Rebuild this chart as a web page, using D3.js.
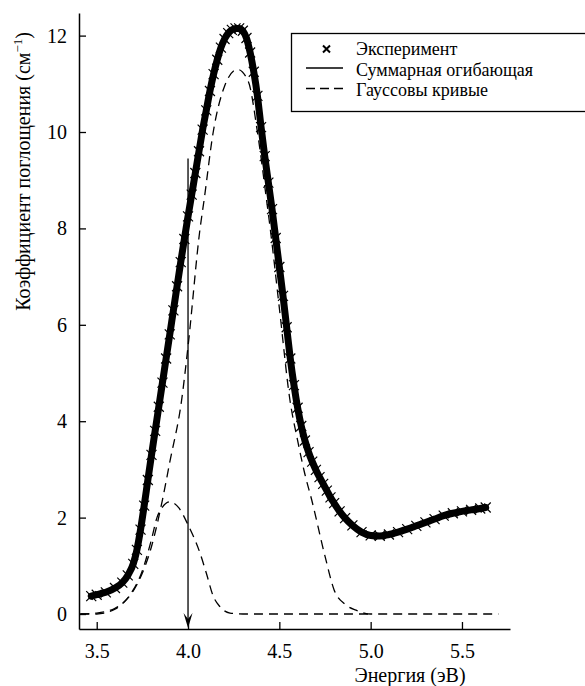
<!DOCTYPE html>
<html>
<head>
<meta charset="utf-8">
<script src="https://cdn.jsdelivr.net/npm/d3@7"></script>
<style>
  body { margin: 0; background: #fff; }
  svg, svg text { font-family: "Liberation Serif", "DejaVu Serif", "Times New Roman", serif; }
</style>
</head>
<body>
<div id="chart"></div>
<script>
"use strict";

const FONT = "'Liberation Serif', 'DejaVu Serif', 'Times New Roman', serif";

// experiment readings (eV, cm^-1)
const expEnergy = [3.47, 3.50, 3.55, 3.60, 3.64, 3.67, 3.70, 3.72, 3.74, 3.76,
  3.78, 3.80, 3.82, 3.84, 3.86, 3.88, 3.90, 3.92, 3.94, 3.96,
  3.98, 4.00, 4.02, 4.04, 4.06, 4.08, 4.10, 4.12, 4.14, 4.16,
  4.18, 4.20, 4.22, 4.24, 4.26, 4.28, 4.30, 4.32, 4.34, 4.36,
  4.38, 4.40, 4.42, 4.44, 4.46, 4.48, 4.50, 4.52, 4.54, 4.56,
  4.58, 4.60, 4.62, 4.64, 4.66, 4.68, 4.70, 4.72, 4.74, 4.76,
  4.78, 4.80, 4.83, 4.86, 4.90, 4.95, 5.00, 5.05, 5.10, 5.15,
  5.20, 5.25, 5.30, 5.35, 5.40, 5.45, 5.50, 5.55, 5.60, 5.63];
const expAbsorb = [0.37, 0.40, 0.45, 0.54, 0.65, 0.80, 1.04, 1.33, 1.75, 2.25,
  2.78, 3.30, 3.80, 4.30, 4.80, 5.30, 5.80, 6.30, 6.80, 7.30,
  7.78, 8.25, 8.70, 9.15, 9.60, 10.05, 10.45, 10.85, 11.20, 11.50,
  11.75, 11.93, 12.05, 12.12, 12.15, 12.15, 12.10, 11.95, 11.65, 11.25,
  10.75, 10.10, 9.50, 8.95, 8.40, 7.80, 7.20, 6.60, 5.95, 5.30,
  4.75, 4.28, 3.90, 3.60, 3.36, 3.16, 2.99, 2.84, 2.70, 2.56,
  2.42, 2.30, 2.13, 1.99, 1.84, 1.70, 1.63, 1.62, 1.65, 1.70,
  1.76, 1.83, 1.90, 1.97, 2.04, 2.09, 2.13, 2.16, 2.19, 2.21];

// small gaussian component
const gauss1Energy = [3.41, 3.50, 3.60, 3.65, 3.70, 3.75, 3.80, 3.83, 3.86, 3.90,
  3.95, 4.00, 4.066, 4.10, 4.137, 4.175, 4.23, 4.30, 5.00];
const gauss1Values = [0, 0, 0.10, 0.25, 0.50, 0.90, 1.55, 2.00, 2.22, 2.33,
  2.20, 1.85, 1.26, 0.85, 0.38, 0.15, 0.02, 0, 0];

// main gaussian component
const gauss2Energy = [3.41, 3.50, 3.60, 3.65, 3.70, 3.75, 3.80, 3.86, 3.90, 3.965,
  4.00, 4.066, 4.088, 4.138, 4.20, 4.27, 4.33, 4.38, 4.43, 4.45,
  4.50, 4.558, 4.60, 4.64, 4.677, 4.75, 4.80, 4.86, 4.92, 5.00, 5.70];
const gauss2Values = [0, 0.02, 0.12, 0.25, 0.48, 0.85, 1.40, 2.37, 3.15, 4.44,
  5.55, 8.00, 8.59, 10.00, 10.95, 11.30, 11.05, 10.00, 8.59, 8.00,
  6.35, 4.44, 3.60, 2.90, 2.37, 1.20, 0.50, 0.20, 0.08, 0, 0];

const xTicks = [3.5, 4.0, 4.5, 5.0, 5.5];
const yTicks = [0, 2, 4, 6, 8, 10, 12];
const legendLabels = ["Эксперимент", "Суммарная огибающая", "Гауссовы кривые"];

// arrow marking 4.0 eV
const arrowEnergy = 4.0;
const arrowTop = 9.45;

const W = 585, H = 686;

function zip(xs, ys) {
  return xs.map((x, i) => ({ x: x, y: ys[i] }));
}

function draw() {
  const svg = d3.select("#chart").append("svg")
    .attr("width", W).attr("height", H)
    .attr("font-family", FONT);

  const x = d3.scaleLinear().domain([3.403, 5.763]).range([79, 510]);
  const y = d3.scaleLinear().domain([-0.311, 12.469]).range([629, 13]);

  const line = d3.line().x((d) => x(d.x)).y((d) => y(d.y)).curve(d3.curveMonotoneX);

  const exp = zip(expEnergy, expAbsorb);

  // gaussians, dashed
  [zip(gauss2Energy, gauss2Values), zip(gauss1Energy, gauss1Values)].forEach((g) => {
    svg.append("path")
      .attr("d", line(g))
      .attr("fill", "none")
      .attr("stroke", "#000")
      .attr("stroke-width", 1.3)
      .attr("stroke-dasharray", "9,6");
  });

  // experiment band: dense crosses
  svg.append("path")
    .attr("d", line(exp))
    .attr("fill", "none")
    .attr("stroke", "#000")
    .attr("stroke-width", 7)
    .attr("stroke-linejoin", "round")
    .attr("stroke-linecap", "round");

  svg.append("g").selectAll("path")
    .data(exp)
    .enter()
    .append("path")
    .attr("d", "M-5,-5L5,5M-5,5L5,-5")
    .attr("transform", (d) => `translate(${x(d.x)},${y(d.y)})`)
    .attr("stroke", "#000")
    .attr("stroke-width", 1.2)
    .attr("fill", "none");

  // envelope
  svg.append("path")
    .attr("d", line(exp))
    .attr("fill", "none")
    .attr("stroke", "#000")
    .attr("stroke-width", 1.3);

  // arrow
  const ax = x(arrowEnergy);
  const ab = y.range()[0] - 1;
  svg.append("line")
    .attr("x1", ax).attr("x2", ax)
    .attr("y1", y(arrowTop)).attr("y2", ab - 4)
    .attr("stroke", "#000").attr("stroke-width", 1.3);
  svg.append("path")
    .attr("d", `M${ax},${ab}L${ax - 4.5},${ab - 15}L${ax},${ab - 9}L${ax + 4.5},${ab - 15}Z`)
    .attr("fill", "#000");

  // axes
  const xAxis = svg.append("g")
    .attr("transform", `translate(0,${y.range()[0]})`)
    .call(d3.axisBottom(x).tickValues(xTicks).tickFormat(d3.format(".1f"))
      .tickSizeInner(-7).tickSizeOuter(0).tickPadding(15));
  const yAxis = svg.append("g")
    .attr("transform", `translate(${x.range()[0]},0)`)
    .call(d3.axisLeft(y).tickValues(yTicks)
      .tickSizeInner(-7).tickSizeOuter(0).tickPadding(12));

  [xAxis, yAxis].forEach((a) => {
    a.attr("font-family", FONT).attr("font-size", 20);
    a.selectAll("text").attr("font-family", FONT).style("font-size", "20px");
    a.selectAll("line").attr("stroke-width", 1.3);
    a.select(".domain").attr("stroke-width", 1.5);
  });

  // axis titles
  svg.append("text")
    .attr("x", 410).attr("y", 682)
    .attr("text-anchor", "middle")
    .attr("font-family", FONT)
    .style("font-size", "20px")
    .text("Энергия (эВ)");

  const yt = svg.append("text")
    .attr("transform", "translate(30,32) rotate(-90)")
    .attr("text-anchor", "end")
    .attr("font-family", FONT)
    .style("font-size", "20px");
  yt.append("tspan").text("Коэффициент поглощения (см");
  yt.append("tspan").attr("dy", -8).style("font-size", "13px").text("−1");
  yt.append("tspan").attr("dy", 8).text(")");

  // legend
  const lg = svg.append("g");
  lg.append("rect")
    .attr("x", 291.5).attr("y", 33.5)
    .attr("width", 320).attr("height", 78)
    .attr("fill", "#fff").attr("stroke", "#000").attr("stroke-width", 1.3);

  lg.append("path")
    .attr("d", "M-3.5,-3.5L3.5,3.5M-3.5,3.5L3.5,-3.5")
    .attr("transform", "translate(326.5,49)")
    .attr("stroke", "#000").attr("stroke-width", 2).attr("fill", "none");
  lg.append("line")
    .attr("x1", 306).attr("x2", 343).attr("y1", 68).attr("y2", 68)
    .attr("stroke", "#000").attr("stroke-width", 1.5);
  lg.append("line")
    .attr("x1", 306).attr("x2", 346).attr("y1", 88.5).attr("y2", 88.5)
    .attr("stroke", "#000").attr("stroke-width", 1.5)
    .attr("stroke-dasharray", "9,5");

  lg.selectAll(".legend-label")
    .data(legendLabels)
    .enter()
    .append("text")
    .attr("class", "legend-label")
    .attr("x", 356)
    .attr("y", (d, i) => 55 + i * 20.5)
    .attr("font-family", FONT)
    .style("font-size", "18px")
    .text((d) => d);
}

draw();
</script>
</body>
</html>
